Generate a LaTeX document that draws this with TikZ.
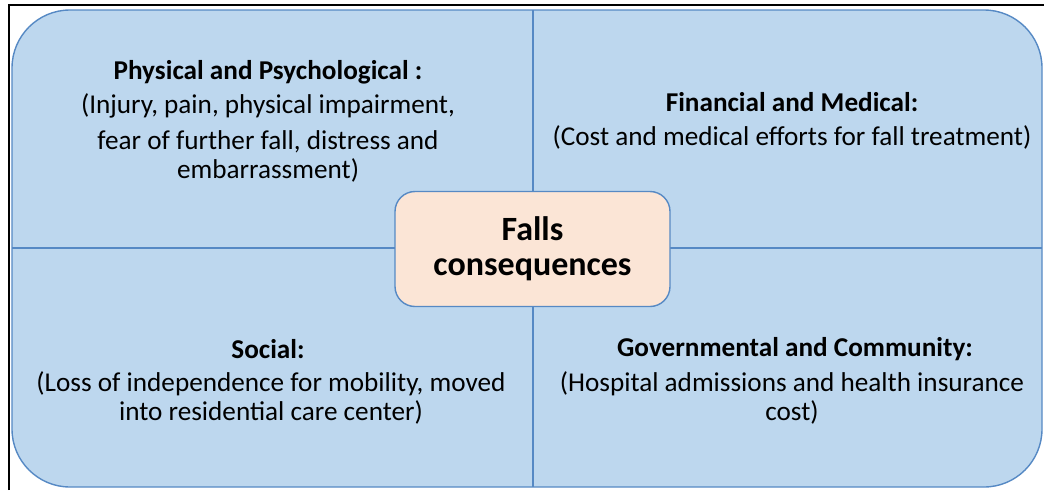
\documentclass[tikz,border=0pt]{standalone}
\usepackage{fontspec}
\setmainfont{Carlito}
\usetikzlibrary{positioning}

\definecolor{quadfill}{HTML}{BDD7EE}
\definecolor{quadline}{HTML}{5689C4}
\definecolor{hubfill}{HTML}{FBE5D6}

\begin{document}
\begin{tikzpicture}[x=1pt, y=-1pt,
    quad/.style={
        fill=quadfill,
        draw=quadline,
        line width=1.4pt
    },
    hub/.style={
        rectangle,
        draw=quadline,
        line width=1.4pt,
        fill=hubfill,
        rounded corners=20pt,
        minimum width=275pt,
        minimum height=115pt,
        align=center,
        font=\fontsize{34}{35}\selectfont\bfseries
    },
    head/.style={font=\fontsize{27.2}{30}\selectfont\bfseries},
    body/.style={align=center, font=\fontsize{27.2}{29}\selectfont}]

    \useasboundingbox (0,0) rectangle (1044,490);

    % Outer frame
    \draw[line width=2.5pt] (9,490) -- (9,5) -- (1044,5);

    % Four quadrants
    \draw[quad, rounded corners=58pt] (12,10) rectangle (1042,487);
    \draw[quad] (533,10) -- (533,487);
    \draw[quad] (12,248) -- (1042,248);

    % Centre box
    \node[hub] (hub) at (532.5,249) {Falls\\consequences};

    % Quadrant texts
    \node[head] (physhead) at (268,72) {Physical and Psychological :};
    \node[body] (physbody) at (268,138) {(Injury, pain, physical impairment,\\[7pt]
        fear of further fall, distress and\\
        embarrassment)};

    \node[head] (finhead) at (792,102) {Financial and Medical:};
    \node[body] (finbody) at (792,137) {(Cost and medical efforts for fall treatment)};

    \node[head] (sochead) at (268,349) {Social:};
    \node[body] (socbody) at (271,397.5) {(Loss of independence for mobility, moved\\
        into residential care center)};

    \node[head] (govhead) at (795,349) {Governmental and Community:};
    \node[body] (govbody) at (792,397.5) {(Hospital admissions and health insurance\\
        cost)};
\end{tikzpicture}
\end{document}
